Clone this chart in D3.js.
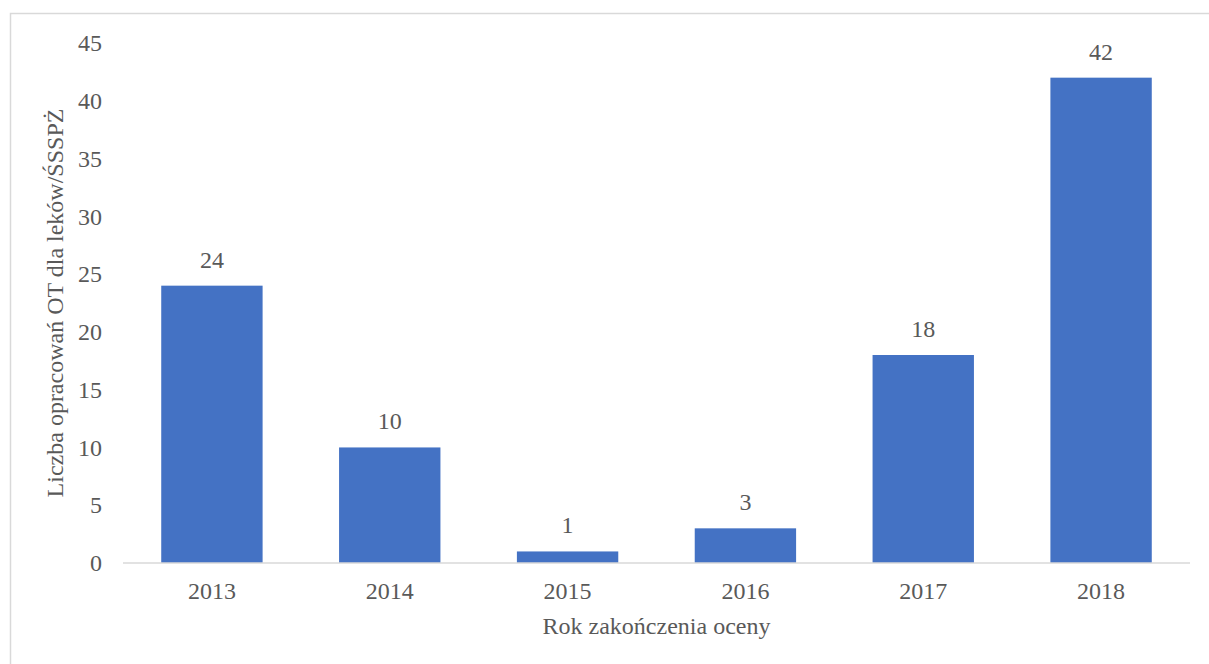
<!DOCTYPE html>
<html>
<head>
<meta charset="utf-8">
<script src="https://cdn.jsdelivr.net/npm/d3@7"></script>
<style>
  html, body { margin: 0; padding: 0; background: #fff; }
  svg { display: block; }
</style>
</head>
<body>
<svg id="chart" width="1209" height="664"></svg>
<script>
// Number of HTA reports per year of assessment completion
const years = ["2013", "2014", "2015", "2016", "2017", "2018"];
const counts = [24, 10, 1, 3, 18, 42];
const yTicks = [0, 5, 10, 15, 20, 25, 30, 35, 40, 45];

const FONT = "'Liberation Serif', 'Times New Roman', Times, serif";
const FS = "24px";
const TXT = "#595959";

const svg = d3.select("#chart");
const W = 1209, H = 664;
const margin = { left: 123, right: 19, top: 43, bottom: 101 };

function styleText(sel) {
  sel.style("font-family", FONT).style("font-size", FS).style("fill", TXT);
}

// outer chart frame
svg.append("rect")
  .attr("x", 10.5).attr("y", 13.5)
  .attr("width", W + 10).attr("height", H + 10)
  .attr("fill", "none").attr("stroke", "#d9d9d9").attr("stroke-width", 1.5);

const x = d3.scaleBand()
  .domain(years)
  .range([margin.left, W - margin.right])
  .paddingInner(0.43)
  .paddingOuter(0.215);

const y = d3.scaleLinear()
  .domain([0, 45])
  .range([H - margin.bottom, margin.top]);

// bars
svg.append("g").selectAll("rect")
  .data(years)
  .join("rect")
  .attr("x", (d) => x(d))
  .attr("width", x.bandwidth())
  .attr("y", (d, i) => y(counts[i]))
  .attr("height", (d, i) => y(0) - y(counts[i]))
  .attr("fill", "#4472c4");

// data labels
svg.append("g").selectAll("text")
  .data(years)
  .join("text")
  .attr("x", (d) => x(d) + x.bandwidth() / 2)
  .attr("y", (d, i) => y(counts[i]) - 18)
  .attr("text-anchor", "middle")
  .text((d, i) => counts[i])
  .call(styleText);

// x axis
const xAxis = svg.append("g")
  .attr("transform", `translate(0,${y(0)})`)
  .call(d3.axisBottom(x).tickSize(0).tickPadding(19).tickSizeOuter(0));
xAxis.attr("font-family", null).attr("font-size", null);
xAxis.select(".domain").attr("stroke", "#d9d9d9").attr("stroke-width", 1.5)
  .attr("d", `M${margin.left},0H${W - margin.right}`);
xAxis.selectAll("text").call(styleText);

// y axis
const yAxis = svg.append("g")
  .attr("transform", `translate(${margin.left},0)`)
  .call(d3.axisLeft(y).tickValues(yTicks).tickSize(0).tickPadding(21));
yAxis.attr("font-family", null).attr("font-size", null);
yAxis.select(".domain").remove();
yAxis.selectAll("text").call(styleText);

// axis titles
svg.append("text")
  .attr("x", (margin.left + W - margin.right) / 2)
  .attr("y", 634)
  .attr("text-anchor", "middle")
  .text("Rok zakończenia oceny")
  .call(styleText);

svg.append("text")
  .attr("transform", `translate(63,${(y(0) + y(45)) / 2}) rotate(-90)`)
  .attr("text-anchor", "middle")
  .text("Liczba opracowań OT dla leków/ŚSSPŻ")
  .call(styleText);
</script>
</body>
</html>
